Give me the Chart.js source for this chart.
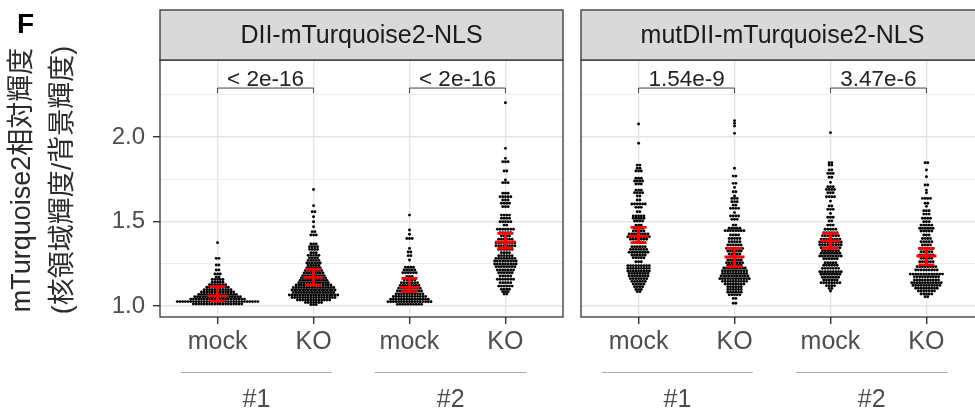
<!DOCTYPE html>
<html>
<head>
  <meta charset="utf-8" />
  <title>mTurquoise2 relative intensity</title>
  <style>
    body { margin: 0; background: #fff; overflow: hidden; }
    #wrap { position: relative; width: 975px; height: 416px; overflow: hidden; }
    #left { position: absolute; left: 0; top: 0; }
    #right { position: absolute; left: 575px; top: 0; }
  </style>
</head>
<body>
  <div id="wrap">
    <canvas id="left" width="570" height="416"></canvas>
    <canvas id="right" width="420" height="416"></canvas>
  </div>

  <script src="https://cdn.jsdelivr.net/npm/chart.js"></script>
  <script>
    const FONT = "'Liberation Sans', Arial, 'Noto Sans CJK JP', sans-serif";

    // facets, categories and labels
    const panelTitles = ['DII-mTurquoise2-NLS', 'mutDII-mTurquoise2-NLS'];
    const categories = [1, 2, 3, 4];
    const tickLabels = ['mock', 'KO', 'mock', 'KO'];
    const lineLabels = ['#1', '#2'];
    const pValuesDII = ['< 2e-16', '< 2e-16'];
    const pValuesMut = ['1.54e-9', '3.47e-6'];
    const yTicks = [1.0, 1.25, 1.5, 1.75, 2.0, 2.25];
    const yTitle = ['mTurquoise2相対輝度', '(核領域輝度/背景輝度)'];

    // swarm rows: [value, number of dots in the row]
    const diiMock1 = [[1.375,1],[1.282,2],[1.243,2],[1.213,2],[1.19,3],[1.172,2],[1.157,5],[1.141,5],[1.126,7],
      [1.111,9],[1.097,11],[1.083,13],[1.069,15],[1.055,18],[1.041,21],[1.026,31],[1.012,19]];
    const diiKO1 = [[1.69,1],[1.594,1],[1.558,2],[1.528,1],[1.499,1],[1.469,1],[1.44,2],[1.42,3],[1.367,3],[1.351,4],
      [1.335,4],[1.315,3],[1.30,5],[1.285,4],[1.27,5],[1.255,6],[1.24,5],[1.225,6],[1.21,7],[1.195,8],[1.18,9],
      [1.166,10],[1.152,11],[1.138,12],[1.124,14],[1.11,16],[1.095,17],[1.08,16],[1.065,19],[1.05,17],[1.036,13],
      [1.021,7],[1.008,3]];
    const diiMock2 = [[1.538,1],[1.45,1],[1.425,1],[1.40,3],[1.341,1],[1.32,2],[1.298,2],[1.272,1],[1.229,4],
      [1.213,5],[1.197,6],[1.175,3],[1.155,5],[1.138,7],[1.121,8],[1.105,9],[1.089,10],[1.072,11],[1.056,13],
      [1.04,15],[1.025,17],[1.01,10]];
    const diiKO2 = [[2.203,1],[1.933,1],[1.874,1],[1.854,3],[1.799,2],[1.746,1],[1.73,3],[1.667,3],[1.647,5],
      [1.627,3],[1.608,4],[1.588,3],[1.538,4],[1.519,4],[1.499,5],[1.479,2],[1.454,7],[1.434,5],[1.414,4],
      [1.395,6],[1.375,8],[1.357,8],[1.335,6],[1.315,4],[1.298,6],[1.282,8],[1.266,9],[1.249,9],[1.233,8],
      [1.213,7],[1.197,6],[1.178,5],[1.158,7],[1.138,5],[1.118,6],[1.099,4],[1.085,3],[1.071,2]];
    const mutMock1 = [[2.077,1],[1.963,1],[1.834,2],[1.815,2],[1.799,3],[1.756,3],[1.74,4],[1.722,3],[1.686,3],
      [1.67,4],[1.651,2],[1.627,2],[1.604,6],[1.584,3],[1.558,2],[1.533,5],[1.519,5],[1.503,4],[1.479,3],
      [1.46,4],[1.444,5],[1.426,8],[1.41,9],[1.395,7],[1.375,4],[1.351,6],[1.335,7],[1.318,8],[1.302,6],
      [1.286,5],[1.262,3],[1.239,9],[1.223,9],[1.207,9],[1.193,8],[1.178,8],[1.162,7],[1.146,6],[1.13,5],
      [1.114,4],[1.098,3],[1.085,2]];
    const mutKO1 = [[2.097,1],[2.081,1],[2.065,1],[2.022,1],[1.815,1],[1.769,2],[1.726,2],[1.702,1],[1.676,2],
      [1.651,1],[1.637,3],[1.617,3],[1.597,2],[1.578,4],[1.553,1],[1.533,4],[1.513,3],[1.479,2],[1.46,5],
      [1.446,8],[1.42,4],[1.40,5],[1.38,5],[1.361,6],[1.341,7],[1.325,6],[1.308,5],[1.292,4],[1.272,6],
      [1.256,7],[1.241,6],[1.225,9],[1.209,10],[1.193,10],[1.178,11],[1.162,12],[1.146,10],[1.13,8],
      [1.114,6],[1.098,6],[1.082,6],[1.066,5],[1.045,2],[1.016,2]];
    const mutMock2 = [[2.026,1],[1.848,2],[1.834,2],[1.805,2],[1.785,3],[1.762,2],[1.732,1],[1.706,3],[1.69,4],
      [1.67,3],[1.647,4],[1.621,1],[1.592,2],[1.572,3],[1.548,1],[1.525,3],[1.503,2],[1.479,3],[1.454,5],
      [1.434,6],[1.416,7],[1.396,8],[1.379,9],[1.363,9],[1.345,8],[1.327,7],[1.312,8],[1.296,9],[1.28,6],
      [1.256,5],[1.241,6],[1.223,7],[1.203,9],[1.188,8],[1.17,7],[1.154,6],[1.138,8],[1.12,4],[1.104,2],
      [1.089,1]];
    const mutKO2 = [[1.848,2],[1.805,1],[1.765,1],[1.716,2],[1.686,1],[1.67,1],[1.637,4],[1.608,2],[1.59,1],
      [1.564,3],[1.544,3],[1.519,4],[1.499,3],[1.479,5],[1.46,6],[1.444,5],[1.42,3],[1.40,4],[1.38,5],
      [1.361,4],[1.341,6],[1.321,5],[1.302,6],[1.282,5],[1.262,6],[1.233,8],[1.213,9],[1.189,13],[1.173,10],
      [1.154,10],[1.138,12],[1.122,11],[1.105,9],[1.089,7],[1.071,5],[1.055,2]];

    // red summaries: mean and error bar ends
    const diiMean = [1.06, 1.17, 1.11, 1.38];
    const diiLow = [1.03, 1.124, 1.085, 1.342];
    const diiHigh = [1.115, 1.217, 1.164, 1.43];
    const mutMean = [1.414, 1.29, 1.385, 1.296];
    const mutLow = [1.375, 1.233, 1.342, 1.243];
    const mutHigh = [1.466, 1.341, 1.43, 1.341];

    const DOT_DX = 0.028;      // horizontal dot spacing, x units
    const BRACKET_Y = 2.29;
    const BRACKET_TIP = 2.26;
    const lineSpans = [[0.62, 2.19], [2.64, 4.22]];  // extent of the #1 / #2 rules, x units

    function swarm(rows, xc) {
      const pts = [];
      rows.forEach(([v, n]) => {
        for (let i = 0; i < n; i++) {
          pts.push({ x: xc + (i - (n - 1) / 2) * DOT_DX, y: v });
        }
      });
      return pts;
    }

    function isMajor(v) {
      return Math.abs(v * 2 - Math.round(v * 2)) < 1e-6;
    }

    function panelPlugin(idx, pvals, mean, low, high) {
      return {
        id: 'panel' + idx,
        afterDatasetsDraw(chart) {
          const { ctx, scales: { x, y } } = chart;
          ctx.save();
          ctx.strokeStyle = '#ff0000';
          ctx.lineWidth = 2.8;
          categories.forEach((c, i) => {
            const px = x.getPixelForValue(c);
            const pm = y.getPixelForValue(mean[i]);
            const pl = y.getPixelForValue(low[i]);
            const ph = y.getPixelForValue(high[i]);
            ctx.beginPath();
            ctx.moveTo(px, pl); ctx.lineTo(px, ph);
            ctx.moveTo(px - 10, pm); ctx.lineTo(px + 10, pm);
            ctx.moveTo(px - 8, pl); ctx.lineTo(px + 8, pl);
            ctx.moveTo(px - 8, ph); ctx.lineTo(px + 8, ph);
            ctx.stroke();
          });
          ctx.restore();
        },
        afterDraw(chart) {
          const { ctx, chartArea: a, scales: { x, y } } = chart;
          ctx.save();
          // panel border
          ctx.strokeStyle = '#333';
          ctx.lineWidth = 1.3;
          ctx.strokeRect(a.left, a.top, a.right - a.left, a.bottom - a.top);
          // strip
          ctx.fillStyle = '#d9d9d9';
          ctx.fillRect(a.left, 10, a.right - a.left, a.top - 10);
          ctx.strokeRect(a.left, 10, a.right - a.left, a.top - 10);
          ctx.fillStyle = '#1a1a1a';
          ctx.font = '25px ' + FONT;
          ctx.textAlign = 'center';
          ctx.textBaseline = 'middle';
          ctx.fillText(panelTitles[idx], (a.left + a.right) / 2, 36);

          // p-value brackets
          const by = y.getPixelForValue(BRACKET_Y);
          const bt = y.getPixelForValue(BRACKET_TIP);
          ctx.strokeStyle = '#444';
          ctx.lineWidth = 1;
          ctx.font = '22.5px ' + FONT;
          ctx.textBaseline = 'alphabetic';
          ctx.fillStyle = '#222';
          [[1, 2], [3, 4]].forEach(([c1, c2], j) => {
            const x1 = x.getPixelForValue(c1);
            const x2 = x.getPixelForValue(c2);
            ctx.beginPath();
            ctx.moveTo(x1, bt); ctx.lineTo(x1, by); ctx.lineTo(x2, by); ctx.lineTo(x2, bt);
            ctx.stroke();
            ctx.fillText(pvals[j], (x1 + x2) / 2, by - 2);
          });

          // line groups under the x labels
          ctx.strokeStyle = '#aaa';
          ctx.font = '25px ' + FONT;
          ctx.fillStyle = '#4d4d4d';
          ctx.textBaseline = 'middle';
          lineSpans.forEach(([s0, s1], j) => {
            const x0 = x.getPixelForValue(s0);
            const x1 = x.getPixelForValue(s1);
            ctx.beginPath();
            ctx.moveTo(x0, 372.5); ctx.lineTo(x1, 372.5);
            ctx.stroke();
            ctx.fillText(lineLabels[j], (x0 + x1) / 2, 400);
          });

          if (idx === 0) {
            ctx.fillStyle = '#000';
            ctx.font = 'bold 28px ' + FONT;
            ctx.textAlign = 'left';
            ctx.textBaseline = 'alphabetic';
            ctx.fillText('F', 17, 33);
            ctx.fillStyle = '#2a2a2a';
            ctx.font = '27px ' + FONT;
            ctx.textAlign = 'center';
            ctx.textBaseline = 'middle';
            [23, 64].forEach((tx, k) => {
              ctx.save();
              ctx.translate(tx, 180);
              ctx.rotate(-Math.PI / 2);
              ctx.fillText(yTitle[k], 0, 0);
              ctx.restore();
            });
          }
          ctx.restore();
        }
      };
    }

    function makePanel(canvasId, idx, groups, pvals, mean, low, high) {
      const first = idx === 0;
      const points = [];
      groups.forEach((rows, i) => points.push(...swarm(rows, categories[i])));

      return new Chart(document.getElementById(canvasId), {
        type: 'scatter',
        data: {
          datasets: [{
            data: points,
            pointRadius: 1.45,
            pointBorderWidth: 0,
            pointBackgroundColor: '#000'
          }]
        },
        options: {
          responsive: false,
          animation: false,
          events: [],
          layout: { padding: first ? { top: 60, right: 7, left: 0, bottom: 0 } : { top: 60, right: 11, left: 6, bottom: 0 } },
          plugins: { legend: { display: false }, tooltip: { enabled: false } },
          scales: {
            x: {
              type: 'linear',
              min: 0.4,
              max: 4.6,
              afterBuildTicks: s => { s.ticks = categories.map(v => ({ value: v })); },
              afterFit: s => { s.height = 99; },
              ticks: {
                callback: v => tickLabels[v - 1],
                font: { family: FONT, size: 25 },
                color: '#4d4d4d',
                padding: 3,
                maxRotation: 0,
                autoSkip: false
              },
              grid: { color: '#e6e6e6', lineWidth: 1.4, tickLength: 7, tickColor: '#333', tickWidth: 1.4 },
              border: { display: false }
            },
            y: {
              min: 0.935,
              max: 2.456,
              afterBuildTicks: s => { s.ticks = yTicks.map(v => ({ value: v })); },
              afterFit: s => { s.width = first ? 160 : 0; },
              ticks: {
                display: first,
                callback: v => isMajor(v) ? v.toFixed(1) : '',
                font: { family: FONT, size: 24 },
                color: '#4d4d4d',
                padding: 8
              },
              grid: {
                color: '#e6e6e6',
                lineWidth: c => (c.tick && isMajor(c.tick.value)) ? 1.4 : 0.7,
                drawTicks: first,
                tickLength: 7,
                tickWidth: 1.4,
                tickColor: c => (c.tick && isMajor(c.tick.value)) ? '#333' : 'rgba(0,0,0,0)'
              },
              border: { display: false }
            }
          }
        },
        plugins: [panelPlugin(idx, pvals, mean, low, high)]
      });
    }

    makePanel('left', 0, [diiMock1, diiKO1, diiMock2, diiKO2], pValuesDII, diiMean, diiLow, diiHigh);
    makePanel('right', 1, [mutMock1, mutKO1, mutMock2, mutKO2], pValuesMut, mutMean, mutLow, mutHigh);
  </script>
</body>
</html>
